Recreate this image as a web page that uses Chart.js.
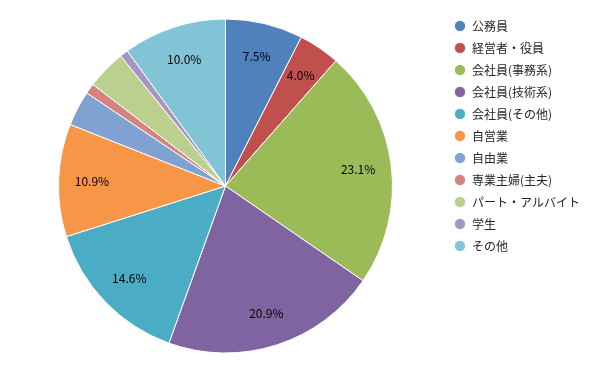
<!DOCTYPE html>
<html>
<head>
<meta charset="utf-8">
<script src="https://cdn.jsdelivr.net/npm/chart.js@4"></script>
<style>
  html, body { margin: 0; padding: 0; background: #fff; }
  #wrap { width: 600px; height: 371px; }
</style>
</head>
<body>
<div id="wrap"><canvas id="pieChart" width="600" height="371"></canvas></div>
<script>
const categories = ['公務員', '経営者・役員', '会社員(事務系)', '会社員(技術系)', '会社員(その他)', '自営業', '自由業', '専業主婦(主夫)', 'パート・アルバイト', '学生', 'その他'];
const shares = [7.5, 4.0, 23.1, 20.9, 14.6, 10.9, 3.4, 1.0, 3.8, 0.8, 10.0];
const sliceColors = ['#4F81BD', '#C0504D', '#9BBB59', '#8064A2', '#4BACC6', '#F79646', '#7FA2D2', '#D6827F', '#BBD08F', '#A896C2', '#80C4D6'];

const fontFamily = '"Noto Sans CJK JP", "Noto Sans", sans-serif';

// percentage labels inside the larger slices
const sliceLabels = {
    id: 'sliceLabels',
    afterDatasetsDraw(chart) {
        const ctx = chart.ctx;
        const meta = chart.getDatasetMeta(0);
        ctx.save();
        ctx.font = '12px ' + fontFamily;
        ctx.fillStyle = '#000';
        ctx.textAlign = 'center';
        ctx.textBaseline = 'middle';
        meta.data.forEach((arc, i) => {
            if (shares[i] < 4) return;
            const mid = (arc.startAngle + arc.endAngle) / 2;
            const r = arc.outerRadius * 0.8;
            ctx.fillText(shares[i].toFixed(1) + '%', arc.x + Math.cos(mid) * r, arc.y + Math.sin(mid) * r);
        });
        ctx.restore();
    }
};

new Chart(document.getElementById('pieChart').getContext('2d'), {
    type: 'pie',
    data: {
        labels: categories,
        datasets: [{
            data: shares,
            backgroundColor: sliceColors,
            borderColor: '#fff',
            borderWidth: 1,
            radius: 167
        }]
    },
    options: {
        responsive: false,
        animation: false,
        layout: {
            padding: { left: 7, right: 10, top: 10, bottom: 9 }
        },
        plugins: {
            tooltip: { enabled: false },
            legend: {
                display: true,
                position: 'right',
                align: 'start',
                labels: {
                    usePointStyle: true,
                    pointStyle: 'circle',
                    boxHeight: 8,
                    padding: 10,
                    color: '#262626',
                    font: { size: 12, family: fontFamily }
                }
            }
        }
    },
    plugins: [sliceLabels]
});
</script>
</body>
</html>
